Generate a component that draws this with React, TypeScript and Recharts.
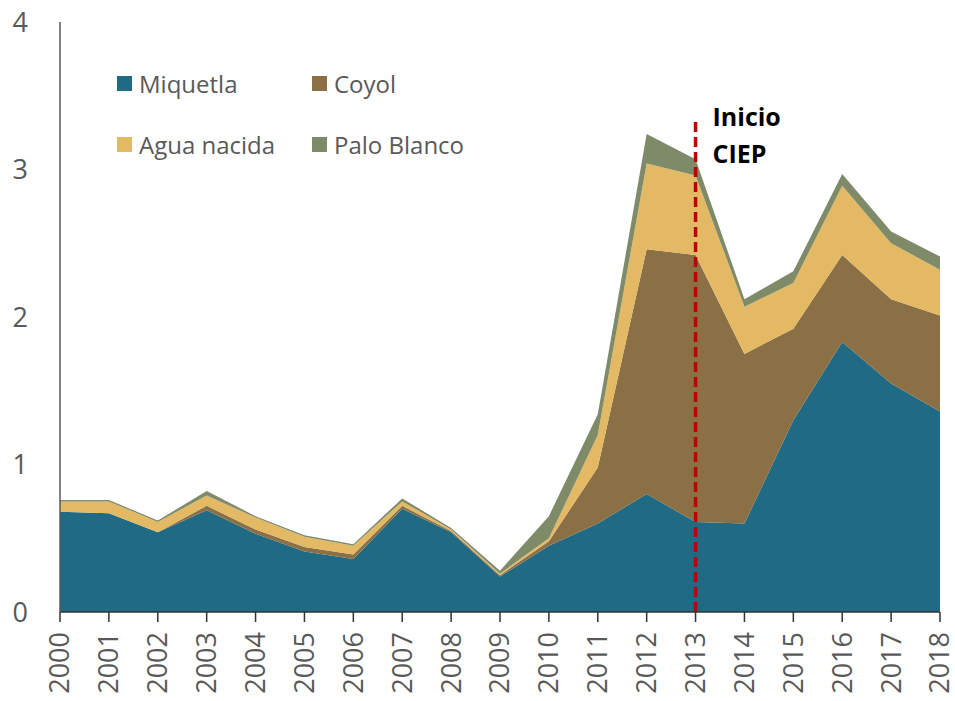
import React from 'react';
import { AreaChart, Area, XAxis, YAxis, ReferenceLine, Legend } from 'recharts';

const years = ['2000', '2001', '2002', '2003', '2004', '2005', '2006', '2007', '2008', '2009',
  '2010', '2011', '2012', '2013', '2014', '2015', '2016', '2017', '2018'];

const miquetla = [0.68, 0.67, 0.54, 0.69, 0.53, 0.41, 0.36, 0.70, 0.54, 0.24,
  0.45, 0.60, 0.80, 0.61, 0.60, 1.30, 1.83, 1.55, 1.36];
const coyol = [0, 0, 0, 0.03, 0.03, 0.03, 0.03, 0.02, 0.01, 0.01,
  0.03, 0.38, 1.66, 1.81, 1.15, 0.62, 0.59, 0.57, 0.65];
const aguaNacida = [0.07, 0.08, 0.07, 0.07, 0.08, 0.07, 0.06, 0.03, 0.01, 0.01,
  0.02, 0.22, 0.58, 0.54, 0.32, 0.31, 0.47, 0.38, 0.31];
const paloBlanco = [0.01, 0.01, 0.01, 0.03, 0.01, 0.01, 0.01, 0.02, 0.01, 0.02,
  0.15, 0.14, 0.20, 0.11, 0.05, 0.08, 0.08, 0.08, 0.09];

const yTicks = [0, 1, 2, 3, 4];
const markerYear = '2013';
const markerTop = 3.35;

const series = [
  { key: 'Miquetla', color: '#206A83' },
  { key: 'Coyol', color: '#8B6F45' },
  { key: 'Agua nacida', color: '#E3B964' },
  { key: 'Palo Blanco', color: '#7F8A68' },
];

const data = years.map((year, i) => ({
  year,
  Miquetla: miquetla[i],
  Coyol: coyol[i],
  'Agua nacida': aguaNacida[i],
  'Palo Blanco': paloBlanco[i],
}));

const FONT = '"Open Sans", "Segoe UI", sans-serif';

const YearTick = (props: any) => {
  const { x, y, payload } = props;
  return (
    <text
      transform={`translate(${x},${y + 8}) rotate(-90)`}
      textAnchor="end"
      dy="0.35em"
      fill="#595959"
      fontSize={27}
      fontFamily={FONT}
    >
      {payload.value}
    </text>
  );
};

const MarkerLabel = (props: any) => {
  const { viewBox } = props;
  const x = viewBox.x + 17;
  const y = viewBox.y;
  return (
    <g fontFamily={FONT} fontWeight="bold" fontSize={25} fill="#000">
      <text x={x} y={y + 8}>Inicio</text>
      <text x={x} y={y + 45}>CIEP</text>
    </g>
  );
};

const renderLegend = () => (
  <div style={{
    display: 'grid',
    gridTemplateColumns: '195px 195px',
    rowGap: '31px',
    fontFamily: FONT,
    fontSize: '24px',
    color: '#595959',
  }}>
    {series.map((s) => (
      <div key={s.key} style={{ display: 'flex', alignItems: 'center', height: '30px' }}>
        <span style={{ width: 15, height: 15, background: s.color, marginRight: 7, display: 'inline-block' }} />
        <span>{s.key}</span>
      </div>
    ))}
  </div>
);

const App: React.FC = () => {
  return (
    <div style={{ position: 'absolute', left: 0, top: 0, width: 955, height: 701, background: '#fff' }}>
      <AreaChart
        width={955}
        height={701}
        data={data}
        margin={{ top: 22, right: 15, left: 0, bottom: 0 }}
      >
        <XAxis
          dataKey="year"
          height={89}
          interval={0}
          axisLine={{ stroke: '#333333', strokeWidth: 1.5 }}
          tickLine={{ stroke: '#333333', strokeWidth: 1.5 }}
          tickSize={10}
          tick={<YearTick />}
        />
        <YAxis
          width={60}
          domain={[0, 4]}
          ticks={yTicks}
          axisLine={{ stroke: '#595959', strokeWidth: 1.5 }}
          tickLine={false}
          tickSize={0}
          tickMargin={32}
          tick={{ fill: '#595959', fontSize: 27, fontFamily: FONT }}
        />
        <Legend
          layout="horizontal"
          verticalAlign="middle"
          align="center"
          content={renderLegend}
          wrapperStyle={{ position: 'absolute', top: 68, left: 117, width: 400 }}
        />
        {series.map((s) => (
          <Area
            key={s.key}
            type="linear"
            dataKey={s.key}
            stackId="1"
            stroke="none"
            fill={s.color}
            fillOpacity={1}
            isAnimationActive={false}
          />
        ))}
        <ReferenceLine
          segment={[{ x: markerYear, y: 0 }, { x: markerYear, y: markerTop }]}
          stroke="#C00000"
          strokeWidth={3.5}
          strokeDasharray="10 5"
          label={<MarkerLabel />}
        />
      </AreaChart>
    </div>
  );
};

export default App;
